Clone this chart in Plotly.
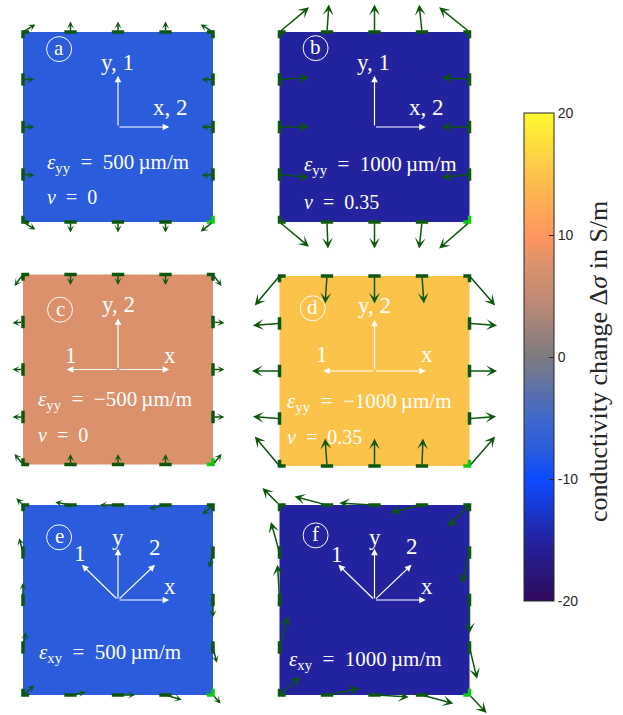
import plotly.graph_objects as go

W, H = 623, 715

# ---- data ---------------------------------------------------------------
panel_ids = ["a", "b", "c", "d", "e", "f"]
# conductivity change of each load case in S/m
delta_sigma = [-7.5, -15.0, 7.5, 15.0, -7.5, -15.0]

EQ = "\u2002=\u2002"
TS = "\u2009"
strain_labels = [
    f"<i>ε</i><sub>yy</sub>{EQ}500{TS}µm/m",
    f"<i>ε</i><sub>yy</sub>{EQ}1000{TS}µm/m",
    f"<i>ε</i><sub>yy</sub>{EQ}−500{TS}µm/m",
    f"<i>ε</i><sub>yy</sub>{EQ}−1000{TS}µm/m",
    f"<i>ε</i><sub>xy</sub>{EQ}500{TS}µm/m",
    f"<i>ε</i><sub>xy</sub>{EQ}1000{TS}µm/m",
]
poisson_labels = [f"<i>ν</i>{EQ}0", f"<i>ν</i>{EQ}0.35", f"<i>ν</i>{EQ}0", f"<i>ν</i>{EQ}0.35", None, None]

# electrode displacement (scaled, sample widths), electrode order:
# TL, T2, T3, T4, TR, R2, R3, R4, BR, B4, B3, B2, BL, L4, L3, L2
disp_u = {
    "a": [0.13, 0.0, 0.0, 0.0, -0.13, -0.12, -0.12, -0.12, -0.13, 0.0, 0.0, 0.0, 0.13, 0.12, 0.12, 0.12],
    "b": [0.31, 0.02, 0.0, -0.03, -0.32, -0.29, -0.29, -0.29, -0.32, -0.03, 0.0, 0.01, 0.31, 0.31, 0.31, 0.31],
    "c": [-0.09, 0.0, 0.0, 0.0, 0.09, 0.12, 0.12, 0.12, 0.09, 0.0, 0.0, 0.0, -0.09, -0.11, -0.11, -0.11],
    "d": [-0.26, -0.02, 0.0, 0.02, 0.27, 0.29, 0.29, 0.28, 0.27, 0.01, 0.0, -0.02, -0.26, -0.28, -0.29, -0.28],
    "e": [-0.07, -0.16, -0.19, -0.17, -0.11, -0.04, 0.0, 0.04, 0.08, 0.17, 0.18, 0.16, 0.12, 0.03, 0.0, -0.04],
    "f": [-0.18, -0.34, -0.37, -0.33, -0.23, -0.08, 0.0, 0.08, 0.18, 0.33, 0.36, 0.34, 0.22, 0.09, -0.02, -0.09],
}
disp_v = {
    "a": [0.08, 0.11, 0.11, 0.11, 0.08, 0.0, 0.0, -0.01, -0.10, -0.11, -0.11, -0.11, -0.08, -0.01, 0.0, 0.0],
    "b": [0.26, 0.29, 0.29, 0.29, 0.26, 0.02, 0.0, -0.03, -0.28, -0.28, -0.28, -0.28, -0.26, -0.03, 0.0, 0.02],
    "c": [-0.12, -0.11, -0.11, -0.11, -0.12, -0.01, 0.0, 0.0, 0.11, 0.11, 0.11, 0.11, 0.11, 0.0, 0.0, -0.01],
    "d": [-0.31, -0.29, -0.29, -0.29, -0.31, -0.02, 0.0, 0.02, 0.31, 0.29, 0.29, 0.29, 0.31, 0.02, 0.0, -0.02],
    "e": [0.07, 0.03, 0.0, -0.04, -0.10, -0.16, -0.18, -0.16, -0.09, -0.05, 0.0, 0.03, 0.10, 0.16, 0.18, 0.15],
    "f": [0.18, 0.09, 0.02, -0.08, -0.23, -0.33, -0.35, -0.33, -0.19, -0.09, -0.02, 0.07, 0.19, 0.33, 0.37, 0.32],
}

cbar_ticks = [-20, -10, 0, 10, 20]
cbar_ticktext = ["-20", "-10", "0", "10", "20"]

# ---- geometry / style ---------------------------------------------------
grid = [-1.0, -0.5, 0.0, 0.5, 1.0]
nodes = ([(g, 1.0) for g in grid] +
         [(1.0, g) for g in grid[3:0:-1]] +
         [(g, -1.0) for g in grid[::-1]] +
         [(-1.0, g) for g in grid[1:4]])

colorscale = [
    [0.0, "#2e0a5c"],
    [0.125, "#2323a0"],
    [0.25, "#0d4cff"],
    [0.3125, "#2a5cdb"],
    [0.375, "#4068cc"],
    [0.5, "#7d7b80"],
    [0.625, "#c38b74"],
    [0.6875, "#db916c"],
    [0.75, "#ff965e"],
    [0.875, "#fcc34a"],
    [1.0, "#fffa30"],
]

S = 190.0          # square side in px
PX = S / 2.0       # px per data unit
M = 12.0           # extra room around each square
square_pos = {"a": (23, 32), "b": (279.5, 32), "c": (23, 274.5),
              "d": (279.5, 276), "e": (23, 505), "f": (279.5, 505)}

GREEN = "#0c560e"
BRIGHT = "#11c811"
SERIF = "Liberation Serif"

# text placement inside each square (data units, centre at 0,0)
circle_xy = {"a": (-0.62, 0.82), "b": (-0.62, 0.83), "c": (-0.61, 0.63),
             "d": (-0.65, 0.66), "e": (-0.62, 0.66), "f": (-0.62, 0.68)}
strain_xy = {"a": (-0.77, -0.38), "b": (-0.76, -0.40), "c": (-0.86, -0.32),
             "d": (-0.94, -0.33), "e": (-0.85, -0.56), "f": (-0.92, -0.63)}
poisson_y = {"a": -0.74, "b": -0.79, "c": -0.69, "d": -0.69}

AX = 0.54
axes_arrows = {
    "a": [(0, AX), (AX, 0)],
    "b": [(0, AX), (AX, 0)],
    "c": [(0, AX), (AX, 0), (-AX, 0)],
    "d": [(0, AX), (AX, 0), (-AX, 0)],
    "e": [(0, AX), (AX, 0), (-0.38, 0.37), (0.39, 0.37)],
    "f": [(0, AX), (AX, 0), (-0.38, 0.37), (0.39, 0.37)],
}
axes_labels = {
    "a": [("y, 1", -0.01, 0.68), ("x, 2", 0.55, 0.21)],
    "b": [("y, 1", -0.01, 0.68), ("x, 2", 0.55, 0.21)],
    "c": [("y, 2", 0.0, 0.68), ("1", -0.50, 0.15), ("x", 0.55, 0.15)],
    "d": [("y, 2", 0.0, 0.69), ("1", -0.55, 0.17), ("x", 0.55, 0.17)],
    "e": [("y", 0.0, 0.66), ("1", -0.40, 0.49), ("2", 0.39, 0.55), ("x", 0.55, 0.14)],
    "f": [("y", 0.0, 0.66), ("1", -0.39, 0.48), ("2", 0.39, 0.56), ("x", 0.55, 0.14)],
}

fig = go.Figure()
annotations = []
shapes = []
layout_axes = {}

h = 0.065  # electrode half length
for k, pid in enumerate(panel_ids):
    n = k + 1
    xs = "x" if n == 1 else f"x{n}"
    ys = "y" if n == 1 else f"y{n}"
    L, T = square_pos[pid]
    r = 1 + M / PX
    layout_axes["xaxis" if n == 1 else f"xaxis{n}"] = dict(
        domain=[(L - M) / W, (L + S + M) / W], range=[-r, r], visible=False,
        fixedrange=True, anchor=ys)
    layout_axes["yaxis" if n == 1 else f"yaxis{n}"] = dict(
        domain=[1 - (T + S + M) / H, 1 - (T - M) / H], range=[-r, r], visible=False,
        fixedrange=True, anchor=xs)

    # coloured specimen
    fig.add_trace(go.Heatmap(z=[[delta_sigma[k]]], x=[-1, 1], y=[-1, 1],
                             coloraxis="coloraxis", xaxis=xs, yaxis=ys,
                             hoverinfo="skip"))

    # electrodes
    ex, ey, bx, by = [], [], [], []
    for (nx, ny) in nodes:
        if abs(nx) == 1 and abs(ny) == 1:
            seg = [(nx - h * nx, ny), (nx, ny), (nx, ny - h * ny)]
        elif abs(ny) == 1:
            seg = [(nx - h, ny), (nx + h, ny)]
        else:
            seg = [(nx, ny - h), (nx, ny + h)]
        tx, ty = (bx, by) if (nx == 1 and ny == -1) else (ex, ey)
        for (px_, py_) in seg:
            tx.append(px_)
            ty.append(py_)
        tx.append(None)
        ty.append(None)
    fig.add_trace(go.Scatter(x=ex, y=ey, mode="lines", xaxis=xs, yaxis=ys,
                             line=dict(color=GREEN, width=3.5), hoverinfo="skip",
                             showlegend=False))
    fig.add_trace(go.Scatter(x=bx, y=by, mode="lines", xaxis=xs, yaxis=ys,
                             line=dict(color=BRIGHT, width=3.5), hoverinfo="skip",
                             showlegend=False))

    # displacement arrows
    big = pid in ("b", "d", "f")
    for i, (nx, ny) in enumerate(nodes):
        annotations.append(dict(
            x=nx + disp_u[pid][i], y=ny + disp_v[pid][i], ax=nx, ay=ny,
            xref=xs, yref=ys, axref=xs, ayref=ys, text="", showarrow=True,
            arrowhead=3, arrowsize=1.2 if big else 0.8, arrowwidth=1.5,
            arrowcolor=GREEN, standoff=0, startstandoff=0))

    # coordinate system arrows
    for (tx_, ty_) in axes_arrows[pid]:
        annotations.append(dict(
            x=tx_, y=ty_, ax=0, ay=0, xref=xs, yref=ys, axref=xs, ayref=ys,
            text="", showarrow=True, arrowhead=2, arrowsize=1.1, arrowwidth=1.2,
            arrowcolor="white", standoff=0))
    for (txt, lx, ly) in axes_labels[pid]:
        annotations.append(dict(x=lx, y=ly, xref=xs, yref=ys, text=txt,
                                showarrow=False, xanchor="center", yanchor="middle",
                                font=dict(family=SERIF, size=23, color="white")))

    # circled panel letter
    cx, cy = circle_xy[pid]
    rr = 12.5 / PX
    shapes.append(dict(type="circle", xref=xs, yref=ys, x0=cx - rr, x1=cx + rr,
                       y0=cy - rr, y1=cy + rr, line=dict(color="white", width=1)))
    annotations.append(dict(x=cx, y=cy + 0.01, xref=xs, yref=ys, text=pid, showarrow=False,
                            xanchor="center", yanchor="middle",
                            font=dict(family=SERIF, size=21, color="white")))

    # load-case labels
    sx, sy = strain_xy[pid]
    annotations.append(dict(x=sx, y=sy, xref=xs, yref=ys, text=strain_labels[k],
                            showarrow=False, xanchor="left", yanchor="middle",
                            font=dict(family=SERIF, size=21, color="white")))
    if poisson_labels[k]:
        annotations.append(dict(x=sx, y=poisson_y[pid], xref=xs, yref=ys,
                                text=poisson_labels[k], showarrow=False,
                                xanchor="left", yanchor="middle",
                                font=dict(family=SERIF, size=20, color="white")))

# colour bar title
annotations.append(dict(x=598 / W, y=1 - 362 / H, xref="paper", yref="paper",
                        text="conductivity change Δ<i>σ</i> in S/m", textangle=-90,
                        showarrow=False, xanchor="center", yanchor="middle",
                        font=dict(family=SERIF, size=26, color="#262626")))

fig.update_layout(
    width=W, height=H, margin=dict(l=0, r=0, t=0, b=0),
    paper_bgcolor="white", plot_bgcolor="rgba(0,0,0,0)",
    showlegend=False,
    coloraxis=dict(
        colorscale=colorscale, cmin=-20, cmax=20,
        colorbar=dict(
            x=524 / W, xanchor="left", y=1 - 357 / H, yanchor="middle",
            len=488 / H, lenmode="fraction", thickness=30, thicknessmode="pixels",
            xpad=0, ypad=0, outlinewidth=1, outlinecolor="#262626",
            tickvals=cbar_ticks, ticktext=cbar_ticktext, ticks="inside",
            ticklen=5, tickwidth=1, tickcolor="#262626",
            tickfont=dict(family="Liberation Sans", size=14, color="#262626"),
        ),
    ),
    annotations=annotations, shapes=shapes,
    **layout_axes,
)

fig.write_html("out.html")
